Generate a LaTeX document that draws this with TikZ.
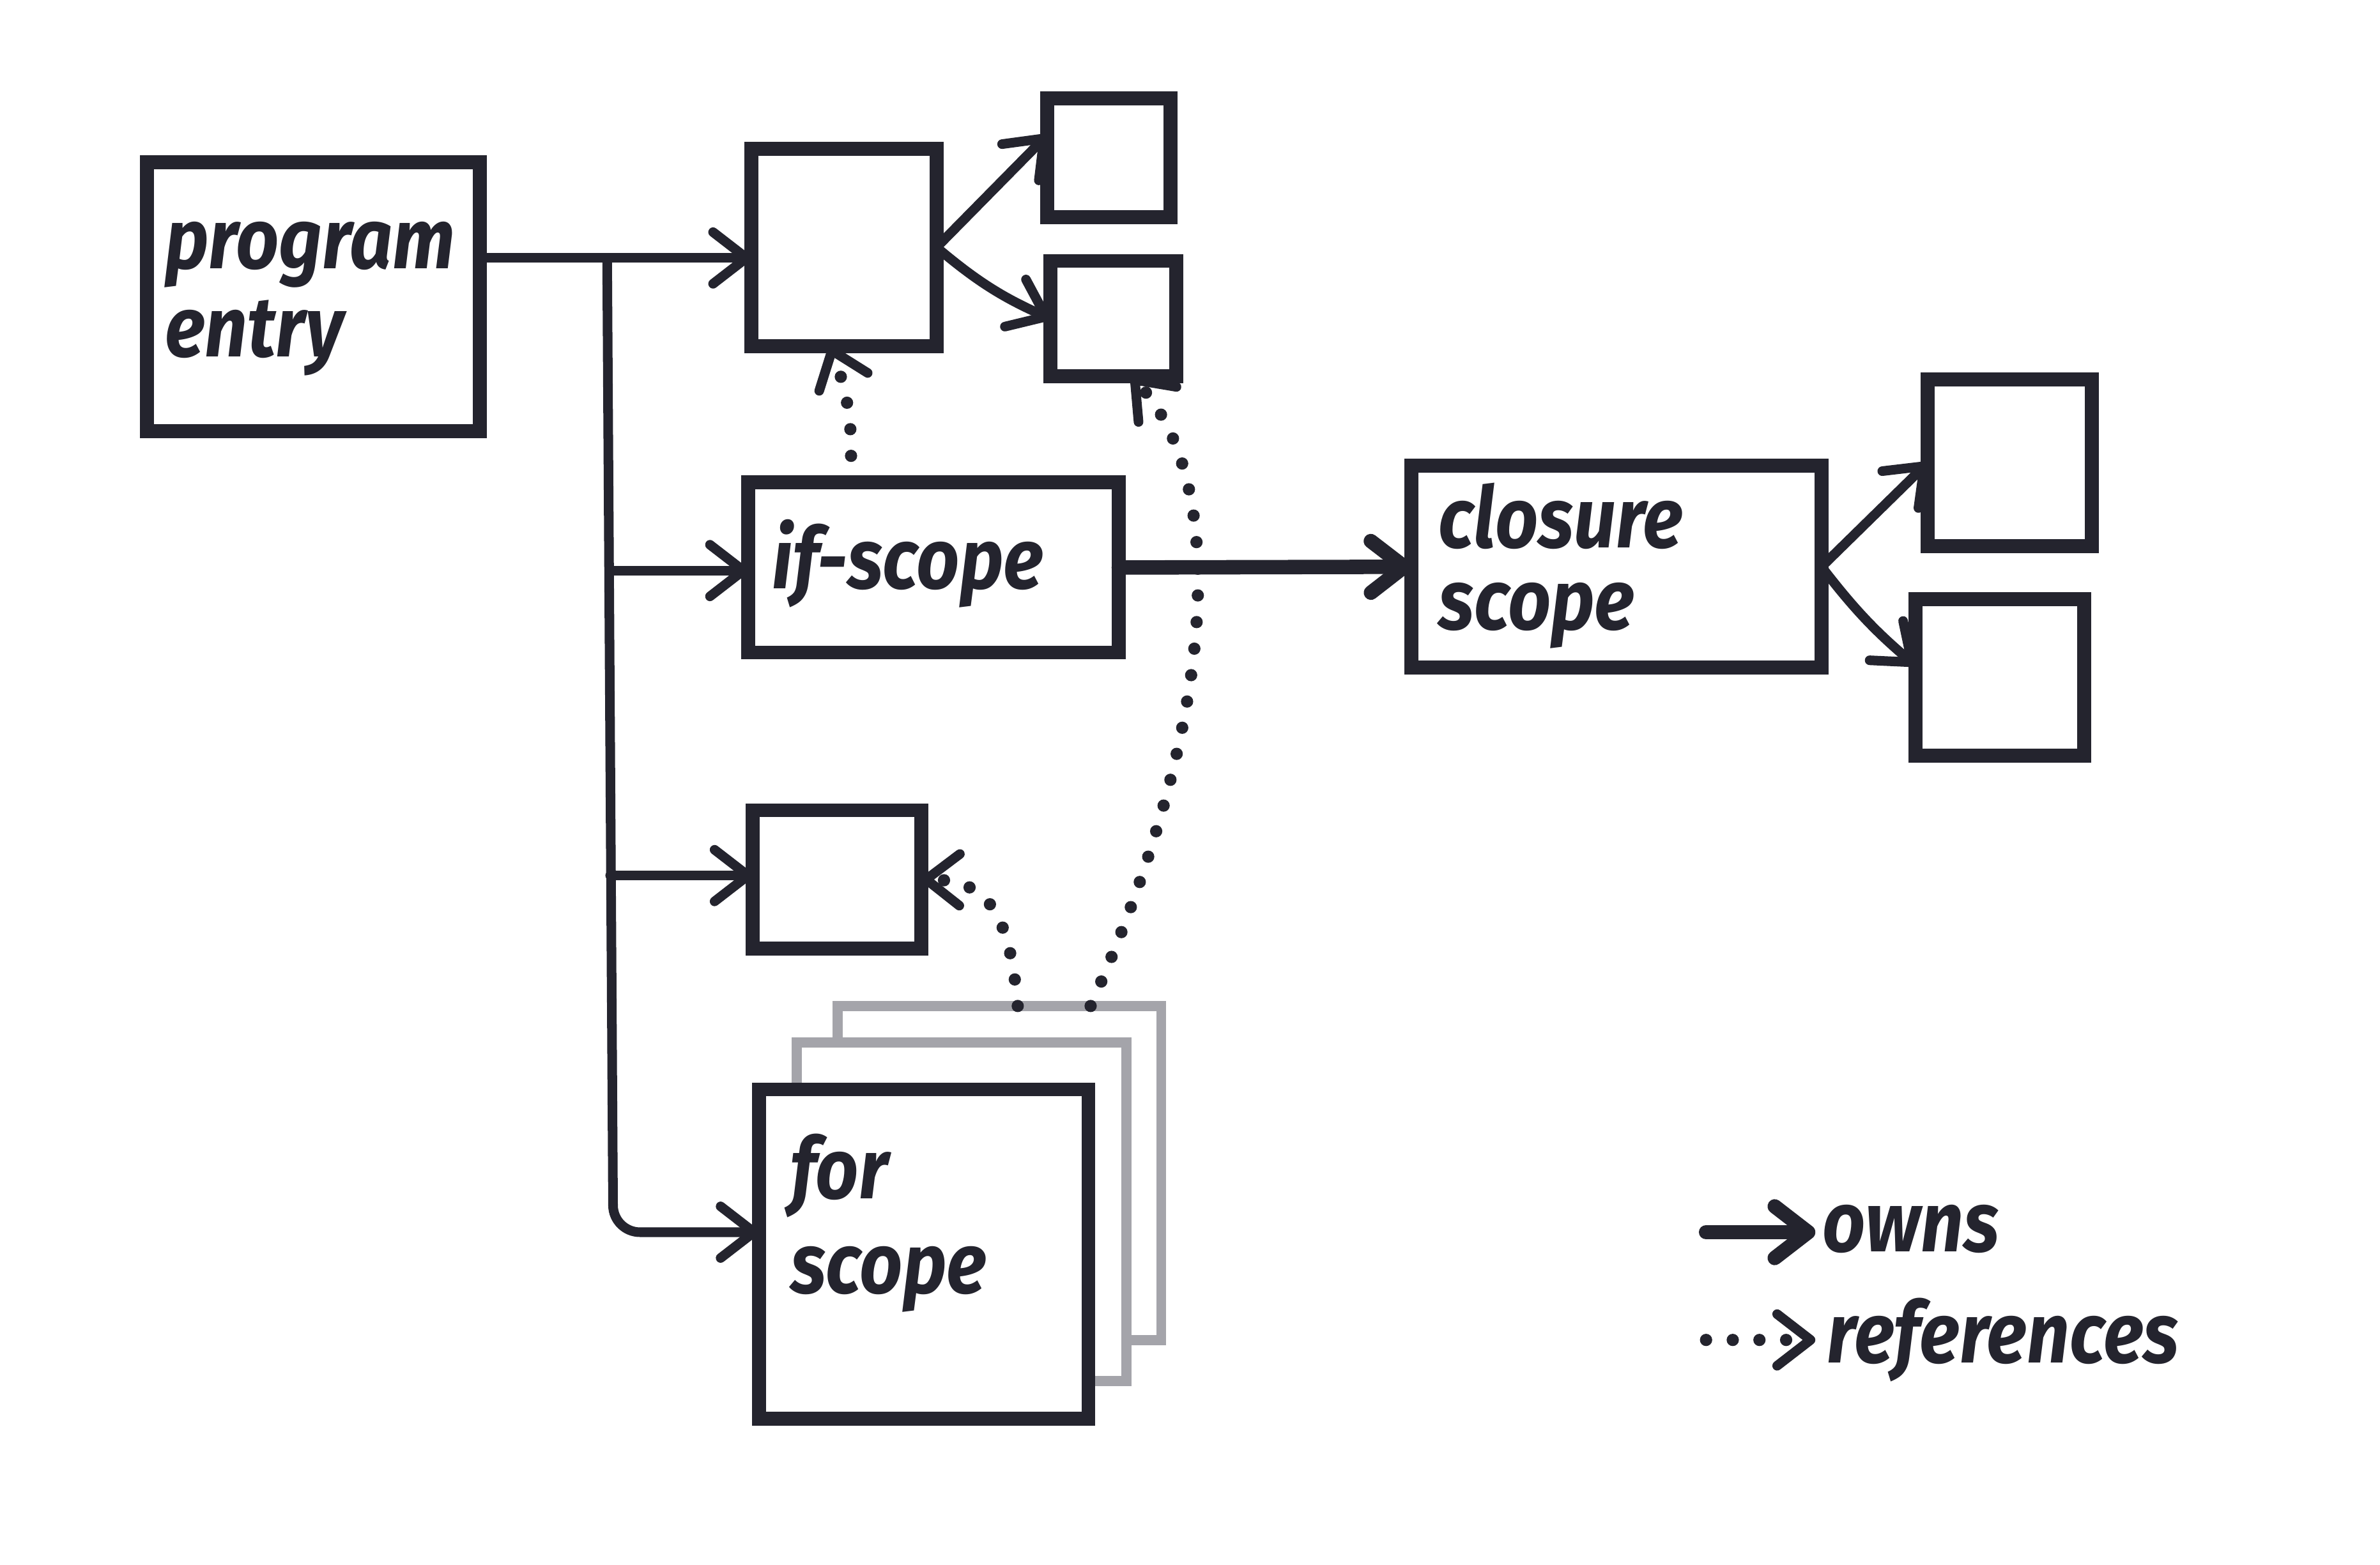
\documentclass[tikz,border=0pt]{standalone}
\usepackage{fontspec}
\usepackage{graphicx}
\setmainfont{Fira Sans}
\usetikzlibrary{arrows.meta}
\definecolor{ink}{HTML}{24242E}
\definecolor{pale}{HTML}{A4A4AA}
% slightly condensed marker-style lettering
\newcommand{\hand}[1]{\scalebox{0.88}[1]{#1}}
\begin{document}
\begin{tikzpicture}[x=0.01cm,y=-0.01cm,
  box/.style={draw=ink,line width=2.6pt,fill=white,inner sep=0pt,outer sep=0pt,rectangle},
  ghost/.style={draw=pale,line width=1.9pt,fill=white,inner sep=0pt,outer sep=0pt,rectangle},
  own/.style={draw=ink,line width=1.8pt,line cap=round,line join=round,-{Straight Barb[length=2.2mm,width=3.4mm,round]}},
  thickown/.style={own,line width=2.7pt},
  ref/.style={draw=ink,line width=2.3pt,line cap=round,dash pattern=on 0pt off 5pt,-{Straight Barb[length=2.2mm,width=3.4mm,round,line width=1.8pt]}},
  lbl/.style={inner sep=0pt,anchor=base west,text=ink,font=\fontsize{16}{19}\selectfont\bfseries\itshape}]

\useasboundingbox (0,0) rectangle (1568,1031);
\fill[white] (0,0) rectangle (1568,1031);

% scope boxes
\node[box,minimum width=2.19cm,minimum height=1.77cm] (ent) at (206.5,195.5) {};
\node[box,minimum width=1.22cm,minimum height=1.30cm] (A)   at (556,163) {};
\node[box,minimum width=0.81cm,minimum height=0.78cm] (B1)  at (730.5,104) {};
\node[box,minimum width=0.83cm,minimum height=0.76cm] (B2)  at (733.5,210) {};
\node[box,minimum width=2.44cm,minimum height=1.12cm] (ifs) at (615,374) {};
\node[box,minimum width=2.70cm,minimum height=1.33cm] (clo) at (1065,373.5) {};
\node[box,minimum width=1.08cm,minimum height=1.10cm] (C1)  at (1324,305) {};
\node[box,minimum width=1.11cm,minimum height=1.03cm] (C2)  at (1317.5,446.5) {};
\node[box,minimum width=1.11cm,minimum height=0.91cm] (D)   at (551.5,579.5) {};

% stacked for-scope instances
\node[ghost,minimum width=2.13cm,minimum height=2.20cm] (gb) at (658.5,773) {};
\node[ghost,minimum width=2.17cm,minimum height=2.23cm] (gm) at (633.5,798.5) {};
\node[box,minimum width=2.17cm,minimum height=2.17cm] (forb) at (608.5,826.5) {};

% labels
\node[lbl] (t1) at (108,177) {\hand{program}};
\node[lbl] (t2) at (108,235) {\hand{entry}};
\node[lbl] (t3) at (508,388) {\hand{if-scope}};
\node[lbl] (t4) at (947,361) {\hand{closure}};
\node[lbl] (t5) at (947,415) {\hand{scope}};
\node[lbl] (t6) at (520,790) {\hand{for}};
\node[lbl] (t7) at (520,852) {\hand{scope}};

% ownership trunk
\coordinate (j0) at (400,170);
\coordinate (j1) at (402,376);
\coordinate (j2) at (402,577);
\coordinate (j3) at (404,812);
\draw[own] (ent.east |- j0) -- (A.west |- j0);
\draw[own,rounded corners=5] (j0) -- (j3) -- (forb.west |- j3);
\draw[own] (j1) -- (ifs.west |- j1);
\draw[own] (j2) -- (D.west |- j2);

\draw[own] (A.east) -- ([yshift=0.15cm]B1.west);
\draw[own] (A.east) to[bend right=8] (B2.west);
\draw[thickown] (ifs.east) -- (clo.west);
\draw[own] (clo.east) -- (C1.west);
\draw[own] (clo.east) to[bend right=6] ([yshift=0.08cm]C2.west);

% references
\draw[ref] ([xshift=-0.55cm]ifs.north) to[bend right=12] ([xshift=-0.09cm]A.south);
\draw[ref] ([xshift=0.6cm]gb.north) .. controls (800,480) and (812,320) .. ([xshift=0.12cm]B2.south);
\draw[ref] ([xshift=0.12cm]gb.north) .. controls (665,600) and (650,580) .. (D.east);

% legend
\coordinate (l1) at (1124,812);
\coordinate (l1e) at (1196,812);
\coordinate (l2) at (1124,883);
\coordinate (l2e) at (1196,883);
\node[lbl] (owns) at (1200,825) {\hand{owns}};
\node[lbl] (refs) at (1203,898) {\hand{references}};
\draw[thickown] (l1) -- (l1e);
\draw[ref] (l2) -- (l2e);
\end{tikzpicture}
\end{document}
